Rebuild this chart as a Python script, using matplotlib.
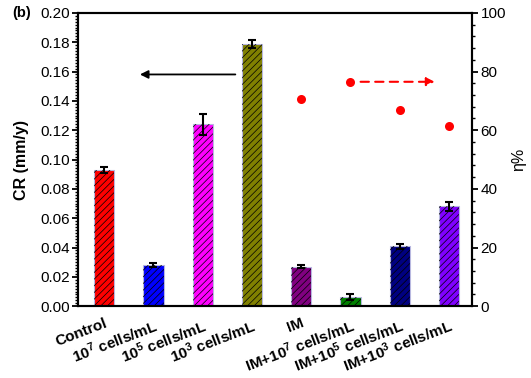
import numpy as np
import matplotlib.pyplot as plt
from matplotlib.ticker import MultipleLocator, FormatStrFormatter

plt.rcParams['font.family'] = ['Liberation Sans', 'DejaVu Sans']
plt.rcParams['mathtext.fontset'] = 'custom'
plt.rcParams['mathtext.rm'] = 'Liberation Sans:bold'
plt.rcParams['mathtext.default'] = 'rm'
plt.rcParams['hatch.linewidth'] = 0.5

labels = ['Control', r'10$^{7}$ cells/mL', r'10$^{5}$ cells/mL', r'10$^{3}$ cells/mL',
          'IM', r'IM+10$^{7}$ cells/mL', r'IM+10$^{5}$ cells/mL', r'IM+10$^{3}$ cells/mL']
cr = [0.093, 0.028, 0.124, 0.179, 0.027, 0.0065, 0.041, 0.068]
cr_err = [0.0022, 0.0012, 0.0072, 0.0028, 0.0010, 0.0020, 0.0017, 0.0030]
bar_colors = ['#ff0000', '#0000ff', '#ff00ff', '#808000',
              '#800080', '#008000', '#000080', '#8000ff']
eta_idx = [4, 5, 6, 7]
eta = [70.5, 76.5, 67.0, 61.5]

fig = plt.figure(figsize=(5.31, 3.78), dpi=100)
ax = fig.add_axes([0.147, 0.190, 0.742, 0.776])
x = np.arange(len(cr))

ax.bar(x, cr, width=0.41, color=bar_colors, edgecolor='#b8b8e0', linewidth=0.8, zorder=2)
ax.bar(x, cr, width=0.41, color='none', edgecolor='black', hatch='/////', linewidth=0, zorder=3)
ax.errorbar(x, cr, yerr=cr_err, fmt='none', ecolor='black', elinewidth=1.5,
            capsize=3, capthick=1.5, zorder=4)

ax.set_xlim(-0.53, 7.47)
ax.set_ylim(0, 0.20)
ax.yaxis.set_major_locator(MultipleLocator(0.02))
ax.yaxis.set_minor_locator(MultipleLocator(0.002))
ax.yaxis.set_major_formatter(FormatStrFormatter('%.2f'))
ax.tick_params(axis='y', which='major', direction='out', length=4, width=1.3,
               labelsize=11, pad=2)
ax.tick_params(axis='y', which='minor', direction='out', length=2, width=1.0)
ax.set_xticks(x)
ax.set_xticklabels(labels, rotation=21, ha='right', rotation_mode='anchor',
                   fontsize=11, fontweight='bold')
ax.tick_params(axis='x', length=0, pad=7)
ax.set_ylabel('CR (mm/y)', fontsize=11.5, fontweight='bold', labelpad=8)
for s in ax.spines.values():
    s.set_linewidth(1.5)

ax.annotate('', xy=(0.67, 0.158), xytext=(2.72, 0.158),
            arrowprops=dict(arrowstyle='-|>', color='black', lw=1.3, mutation_scale=12))

ax2 = ax.twinx()
ax2.set_ylim(0, 100)
ax2.yaxis.set_major_locator(MultipleLocator(20))
ax2.yaxis.set_minor_locator(MultipleLocator(4))
ax2.tick_params(axis='y', which='major', direction='out', length=4, width=1.3,
                labelsize=11, pad=2)
ax2.tick_params(axis='y', which='minor', direction='out', length=2, width=1.0)
ax2.plot(eta_idx, eta, 'o', color='#ff0000', markersize=6.5, markeredgewidth=0, zorder=5)
ax2.set_ylabel('η%', fontsize=11.5, rotation=90, labelpad=4)
for s in ax2.spines.values():
    s.set_linewidth(1.5)

ax2.annotate('', xy=(6.77, 76.5), xytext=(5.15, 76.5),
             arrowprops=dict(arrowstyle='-|>', color='#ff0000', lw=1.5, ls=(0, (4, 3)),
                             mutation_scale=12))

fig.text(0.024, 0.965, '(b)', fontsize=10.5, fontweight='bold', va='center')

fig.savefig('out.png', dpi=100)
